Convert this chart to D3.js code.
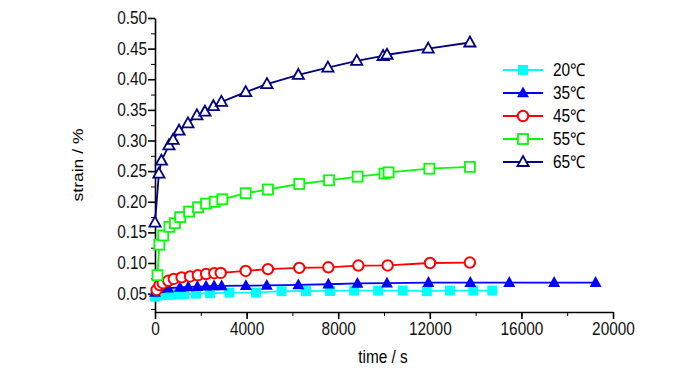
<!DOCTYPE html>
<html>
<head>
<meta charset="utf-8">
<script src="https://cdn.jsdelivr.net/npm/d3@7"></script>
<style>
  body { margin: 0; background: #fff; }
  text { font-family: "Liberation Sans", Arial, sans-serif; }
</style>
</head>
<body>
<script>

let width = 700;
let height = 373;

// time (s) and strain (%) for each temperature
let t20 = [0, 130, 350, 650, 960, 1270, 1790, 2400, 3250, 4410, 5530, 6590, 7640, 8700, 9750, 10820, 11870, 12880, 13900, 14730];
let s20 = [0.045, 0.047, 0.048, 0.048, 0.049, 0.049, 0.050, 0.0506, 0.0516, 0.0516, 0.054, 0.054, 0.0544, 0.0549, 0.0549, 0.055, 0.054, 0.055, 0.055, 0.055];

let t35 = [0, 175, 570, 1090, 1450, 1850, 2230, 2580, 2910, 3970, 4880, 6260, 7570, 8840, 10130, 11940, 13770, 15470, 17430, 19240];
let s35 = [0.052, 0.058, 0.059, 0.060, 0.061, 0.0615, 0.062, 0.0625, 0.0625, 0.063, 0.0634, 0.0642, 0.0653, 0.0666, 0.067, 0.068, 0.068, 0.068, 0.068, 0.068];

let t45 = [70, 200, 340, 580, 820, 1160, 1530, 1870, 2230, 2590, 2870, 3960, 4930, 6300, 7570, 8880, 10160, 12010, 13750];
let s45 = [0.056, 0.064, 0.067, 0.071, 0.074, 0.0765, 0.078, 0.080, 0.082, 0.0833, 0.0838, 0.087, 0.090, 0.092, 0.093, 0.0958, 0.096, 0.100, 0.1007];

let t55 = [110, 190, 360, 630, 870, 1100, 1490, 1880, 2230, 2610, 2940, 3960, 4930, 6300, 7600, 8850, 10020, 10200, 11980, 13750];
let s55 = [0.080, 0.130, 0.145, 0.159, 0.165, 0.175, 0.184, 0.191, 0.197, 0.200, 0.204, 0.214, 0.220, 0.229, 0.235, 0.241, 0.246, 0.248, 0.254, 0.257];

let t65 = [0, 170, 280, 610, 790, 1050, 1440, 1830, 2180, 2550, 2900, 3960, 4890, 6260, 7550, 8810, 9960, 10130, 11930, 13750];
let s65 = [0.166, 0.246, 0.267, 0.292, 0.301, 0.316, 0.328, 0.341, 0.347, 0.356, 0.363, 0.379, 0.392, 0.407, 0.419, 0.430, 0.438, 0.440, 0.450, 0.460];

let seriesNames = ["20℃", "35℃", "45℃", "55℃", "65℃"];
let seriesColors = ["#00ffff", "#0000ff", "#ff0000", "#00ff00", "#000080"];
let seriesMarkers = ["squareFilled", "triangleFilled", "circle", "square", "triangle"];

let xTicks = [0, 4000, 8000, 12000, 16000, 20000];
let yTicks = [0.05, 0.10, 0.15, 0.20, 0.25, 0.30, 0.35, 0.40, 0.45, 0.50];

let series = [
    {name: seriesNames[0], t: t20, s: s20},
    {name: seriesNames[1], t: t35, s: s35},
    {name: seriesNames[2], t: t45, s: s45},
    {name: seriesNames[3], t: t55, s: s55},
    {name: seriesNames[4], t: t65, s: s65}
];

// text in the original is tall and narrow
let squeeze = "scale(0.88,1)";

let svg = d3.select("body").append("svg")
    .attr("width", width)
    .attr("height", height);

let x = d3.scaleLinear().domain([0, 20000]).range([155, 613]);
let y = d3.scaleLinear().domain([0.02, 0.50]).range([312, 18]);

// minor ticks first, then labelled major ticks
svg.append("g")
    .attr("transform", "translate(0,312)")
    .call(d3.axisBottom(x).tickValues(d3.range(0, 20001, 2000)).tickSize(4).tickFormat(""))
    .call(g => g.select(".domain").remove());
svg.append("g")
    .attr("transform", "translate(155,0)")
    .call(d3.axisLeft(y).tickValues(d3.range(0.025, 0.5, 0.05)).tickSize(4).tickFormat(""))
    .call(g => g.select(".domain").remove());

let xAxis = svg.append("g")
    .attr("transform", "translate(0,312)")
    .call(d3.axisBottom(x).tickValues(xTicks).tickSize(7).tickSizeOuter(0).tickPadding(4).tickFormat(d3.format("d")));
let yAxis = svg.append("g")
    .attr("transform", "translate(155,0)")
    .call(d3.axisLeft(y).tickValues(yTicks).tickSize(7).tickSizeOuter(0).tickPadding(2).tickFormat(d3.format(".2f")));

[xAxis, yAxis].forEach(function (g) {
    g.selectAll("path, line").attr("stroke", "#000").attr("stroke-width", 1.6);
    g.selectAll("text").attr("font-size", 17.5).attr("fill", "#111").attr("transform", squeeze);
});

svg.append("text")
    .attr("transform", "translate(383,363) " + squeeze)
    .attr("text-anchor", "middle")
    .attr("font-size", 17.5)
    .text("time / s");
svg.append("text")
    .attr("transform", "translate(83,165) rotate(-90) scale(1,0.88)")
    .attr("text-anchor", "middle")
    .attr("font-size", 17.5)
    .text("strain / %");

function drawMarker(g, kind, color) {
    if (kind == "squareFilled") {
        g.append("rect").attr("x", -5).attr("y", -5).attr("width", 10).attr("height", 10)
            .attr("fill", color);
    } else if (kind == "square") {
        g.append("rect").attr("x", -5).attr("y", -5).attr("width", 10).attr("height", 10)
            .attr("fill", "#fff").attr("stroke", color).attr("stroke-width", 1.8);
    } else if (kind == "circle") {
        g.append("circle").attr("r", 5.2)
            .attr("fill", "#fff").attr("stroke", color).attr("stroke-width", 2);
    } else if (kind == "triangleFilled") {
        g.append("path").attr("d", "M0,-6.5L6,4.3L-6,4.3Z").attr("fill", color);
    } else {
        g.append("path").attr("d", "M0,-6L5.6,4L-5.6,4Z")
            .attr("fill", "#fff").attr("stroke", color).attr("stroke-width", 1.8);
    }
}

let line = d3.line()
    .x(d => x(d[0]))
    .y(d => y(d[1]));

series.forEach(function (sr, i) {
    let pts = sr.t.map((t, j) => [t, sr.s[j]]);
    let g = svg.append("g");
    g.append("path")
        .attr("d", line(pts))
        .attr("fill", "none")
        .attr("stroke", seriesColors[i])
        .attr("stroke-width", 1.8);
    g.selectAll(".pt")
        .data(pts)
        .enter()
        .append("g")
        .attr("transform", d => "translate(" + x(d[0]) + "," + y(d[1]) + ")")
        .each(function () {
            drawMarker(d3.select(this), seriesMarkers[i], seriesColors[i]);
        });
});

// Legend
let legend = svg.append("g").attr("transform", "translate(503,70)");
seriesNames.forEach(function (name, i) {
    let row = legend.append("g").attr("transform", "translate(0," + (i * 23) + ")");
    row.append("line")
        .attr("x1", 0).attr("x2", 40)
        .attr("stroke", seriesColors[i]).attr("stroke-width", 1.8);
    drawMarker(row.append("g").attr("transform", "translate(20,0)"), seriesMarkers[i], seriesColors[i]);
    row.append("text")
        .attr("transform", "translate(50,6) " + squeeze)
        .attr("font-size", 17.5)
        .text(name);
});

</script>
</body>
</html>
